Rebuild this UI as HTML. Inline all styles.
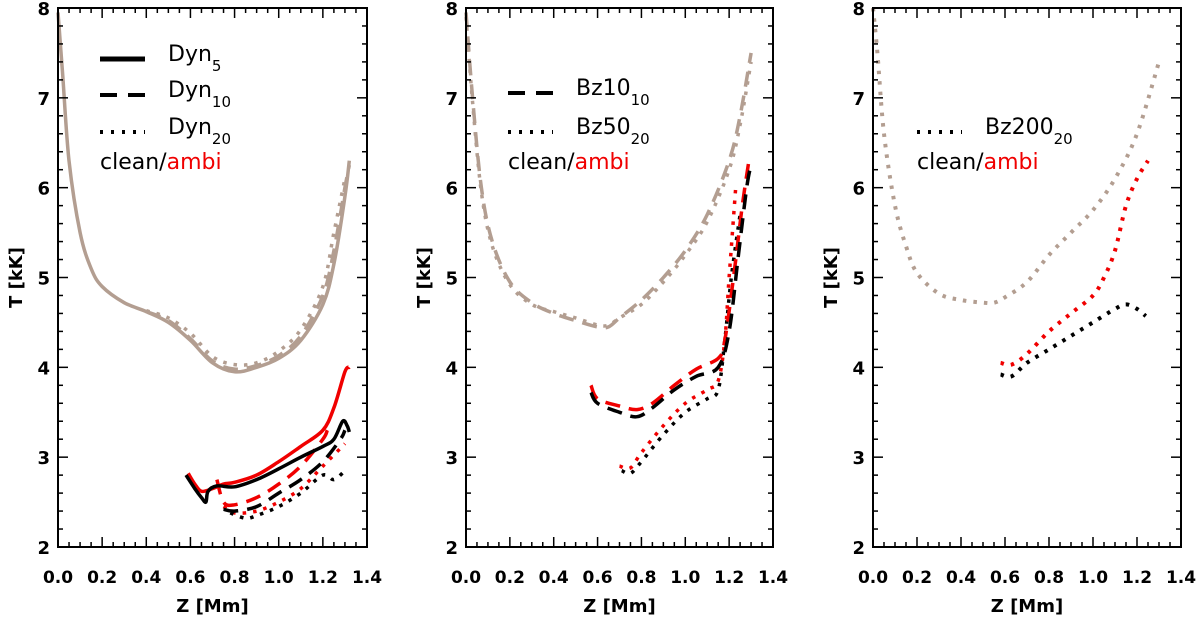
<!DOCTYPE html>
<html><head><meta charset="utf-8"><style>
body{margin:0;background:#fff;}
svg{display:block;font-family:"DejaVu Sans","Liberation Sans",sans-serif;}
</style></head><body>
<svg id="chart" width="1200" height="623" viewBox="0 0 1200 623"></svg>
<script>
const xTicks=[0.0,0.2,0.4,0.6,0.8,1.0,1.2,1.4];
const yTicks=[2,3,4,5,6,7,8];
const GRAY="#b39e91",RED="#f00000",BLK="#000";
// panel 1
const p1GraySolid=[[0,7.95],[0.02,7.3],[0.05,6.3],[0.1,5.5],[0.15,5.1],[0.2,4.9],[0.3,4.72],[0.4,4.62],[0.5,4.5],[0.6,4.3],[0.7,4.05],[0.8,3.95],[0.9,4.0],[1.0,4.1],[1.1,4.3],[1.2,4.7],[1.25,5.15],[1.3,5.9],[1.32,6.3]];
const p1GrayDash=[[0.4,4.62],[0.5,4.52],[0.6,4.32],[0.7,4.07],[0.8,3.98],[0.9,4.02],[1.0,4.13],[1.1,4.35],[1.2,4.8],[1.25,5.3],[1.3,6.0],[1.32,6.25]];
const p1GrayDot=[[0.4,4.63],[0.5,4.55],[0.6,4.38],[0.7,4.12],[0.8,4.03],[0.9,4.05],[1.0,4.18],[1.1,4.42],[1.2,4.9],[1.25,5.5],[1.3,6.1]];
const p1RedSolid=[[0.59,2.82],[0.62,2.7],[0.65,2.62],[0.7,2.65],[0.75,2.7],[0.8,2.72],[0.9,2.8],[1.0,2.95],[1.1,3.12],[1.2,3.3],[1.25,3.55],[1.3,3.95],[1.32,4.0]];
const p1BlkSolid=[[0.58,2.8],[0.62,2.65],[0.65,2.55],[0.67,2.5],[0.68,2.62],[0.72,2.68],[0.8,2.67],[0.9,2.75],[1.0,2.87],[1.1,3.0],[1.2,3.12],[1.25,3.2],[1.29,3.4],[1.31,3.35],[1.32,3.28]];
const p1RedDash=[[0.72,2.75],[0.75,2.5],[0.8,2.47],[0.9,2.55],[1.0,2.7],[1.1,2.9],[1.2,3.2],[1.22,3.3]];
const p1BlkDash=[[0.75,2.42],[0.8,2.4],[0.9,2.45],[1.0,2.6],[1.1,2.75],[1.2,2.95],[1.28,3.2],[1.3,3.3]];
const p1RedDot=[[0.75,2.45],[0.8,2.38],[0.9,2.4],[1.0,2.5],[1.1,2.65],[1.2,2.9],[1.3,3.15]];
const p1BlkDot=[[0.78,2.38],[0.85,2.32],[0.9,2.35],[1.0,2.45],[1.1,2.6],[1.2,2.8],[1.25,2.75],[1.3,2.85]];
// panel 2
const p2GrayDash=[[0,7.95],[0.03,7.0],[0.07,6.0],[0.12,5.4],[0.2,4.95],[0.3,4.72],[0.4,4.6],[0.5,4.52],[0.6,4.45],[0.65,4.45],[0.7,4.55],[0.8,4.75],[0.9,5.0],[1.0,5.3],[1.1,5.7],[1.2,6.3],[1.25,6.8],[1.3,7.5]];
const p2GrayDot=[[0,7.9],[0.03,6.95],[0.07,5.95],[0.12,5.35],[0.2,4.92],[0.3,4.7],[0.4,4.62],[0.5,4.55],[0.6,4.47],[0.65,4.47],[0.7,4.55],[0.8,4.7],[0.9,4.95],[1.0,5.25],[1.1,5.62],[1.2,6.2],[1.25,6.7],[1.3,7.4]];
const p2RedDash=[[0.57,3.8],[0.6,3.65],[0.7,3.57],[0.78,3.53],[0.85,3.6],[0.95,3.8],[1.05,3.98],[1.15,4.1],[1.18,4.3],[1.22,5.0],[1.26,5.8],[1.29,6.3]];
const p2BlkDash=[[0.57,3.72],[0.6,3.6],[0.7,3.5],[0.78,3.45],[0.85,3.55],[0.95,3.75],[1.05,3.9],[1.15,4.0],[1.2,4.4],[1.24,5.2],[1.28,6.0],[1.3,6.25]];
const p2RedDot=[[0.7,2.9],[0.75,2.88],[0.8,3.05],[0.9,3.35],[1.0,3.6],[1.1,3.75],[1.15,3.85],[1.18,4.3],[1.2,5.0],[1.23,6.0]];
const p2BlkDot=[[0.71,2.85],[0.75,2.82],[0.8,2.95],[0.9,3.25],[1.0,3.5],[1.1,3.65],[1.15,3.75],[1.18,4.3],[1.21,5.0],[1.25,5.7]];
// panel 3
const p3GrayDot=[[0,8.0],[0.02,7.5],[0.05,6.6],[0.1,5.8],[0.15,5.35],[0.2,5.05],[0.3,4.82],[0.4,4.75],[0.5,4.72],[0.55,4.72],[0.6,4.78],[0.7,4.95],[0.8,5.25],[0.9,5.5],[1.0,5.75],[1.1,6.1],[1.2,6.6],[1.3,7.4]];
const p3RedDot=[[0.58,4.05],[0.63,4.03],[0.7,4.15],[0.8,4.4],[0.9,4.6],[1.0,4.8],[1.05,5.0],[1.1,5.3],[1.15,5.8],[1.2,6.1],[1.25,6.3]];
const p3BlkDot=[[0.58,3.92],[0.63,3.9],[0.7,4.05],[0.8,4.2],[0.9,4.35],[1.0,4.5],[1.1,4.65],[1.15,4.7],[1.2,4.65],[1.24,4.57]];

const svg=document.getElementById('chart');
const NS="http://www.w3.org/2000/svg";
function mk(tag,attrs,parent,text){const e=document.createElementNS(NS,tag);for(const k in attrs)e.setAttribute(k,attrs[k]);if(text!==undefined)e.textContent=text;(parent||svg).appendChild(e);return e;}
const TOP=8,BOT=547;
const DASH={solid:null,dash:"15,9",dot:"3.5,7"};
function smoothPath(pts){
  let d='M'+pts[0][0].toFixed(1)+','+pts[0][1].toFixed(1);
  for(let i=0;i<pts.length-1;i++){
    const p0=pts[Math.max(0,i-1)],p1=pts[i],p2=pts[i+1],p3=pts[Math.min(pts.length-1,i+2)];
    const c1=[p1[0]+(p2[0]-p0[0])/6,p1[1]+(p2[1]-p0[1])/6],c2=[p2[0]-(p3[0]-p1[0])/6,p2[1]-(p3[1]-p1[1])/6];
    d+=` C${c1[0].toFixed(1)},${c1[1].toFixed(1)} ${c2[0].toFixed(1)},${c2[1].toFixed(1)} ${p2[0].toFixed(1)},${p2[1].toFixed(1)}`;
  }
  return d;
}
function panel(idx,L,R,series,legend){
  const g=mk('g',{});
  
  
  const xs=v=>L+v/1.4*(R-L), ys=v=>BOT-(v-2)/6*(BOT-TOP);
  series.forEach(s=>{
    const p=mk('path',{d:smoothPath(s.d.map(q=>[xs(q[0]),ys(q[1])])),fill:'none',stroke:s.c,'stroke-width':s.w||3.5,'stroke-linejoin':'round'},g);
    if(DASH[s.t])p.setAttribute('stroke-dasharray',DASH[s.t]);
    
    
  });
  const fr=mk('rect',{x:L,y:TOP,width:R-L,height:BOT-TOP,fill:'none',stroke:'#000','stroke-width':2},g);
  
  
  for(let v=0;v<=1.4001;v+=0.05){const x=xs(v);const maj=Math.abs(v/0.2-Math.round(v/0.2))<1e-6;const l=maj?10:5;
    mk('line',{x1:x,x2:x,y1:BOT,y2:BOT-l,stroke:'#000','stroke-width':1.5},g);mk('line',{x1:x,x2:x,y1:TOP,y2:TOP+l,stroke:'#000','stroke-width':1.5},g);}
  for(let v=2;v<=8.0001;v+=0.2){const y=ys(v);const maj=Math.abs(v-Math.round(v))<1e-6;const l=maj?10:5;
    mk('line',{x1:L,x2:L+l,y1:y,y2:y,stroke:'#000','stroke-width':1.5},g);mk('line',{x1:R,x2:R-l,y1:y,y2:y,stroke:'#000','stroke-width':1.5},g);}
  xTicks.forEach(v=>{const t=mk('text',{x:xs(v),y:BOT+36,'text-anchor':'middle','font-size':17,'font-weight':'bold'},g,v.toFixed(1));
    });
  yTicks.forEach(v=>{const t=mk('text',{x:L-8,y:ys(v)+7,'text-anchor':'end','font-size':18,'font-weight':'bold'},g,String(v));
    });
  const xt=mk('text',{x:(L+R)/2,y:612,'text-anchor':'middle','font-size':18,'font-weight':'bold'},g,'Z [Mm]');
  
  const yt=mk('text',{transform:`translate(${L-36},${(TOP+BOT)/2}) rotate(-90)`,'text-anchor':'middle','font-size':18,'font-weight':'bold'},g,'T [kK]');
  
  legend.items.forEach(it=>{
    const lg=mk('g',{},g);
    
    
    const ln=mk('line',{x1:legend.x,x2:legend.x+45,y1:it.y,y2:it.y,stroke:'#000','stroke-width':it.t==='solid'?5:4},lg);
    if(DASH[it.t])ln.setAttribute('stroke-dasharray',it.t==='dash'?'17,11':'3,8');
    const tx=mk('text',{x:legend.x+68,y:it.y+2,'font-size':22},lg);
    mk('tspan',{},tx,it.base);mk('tspan',{dy:10,'font-size':15},tx,it.sub);
  });
  const ct=mk('text',{x:legend.x,y:legend.cy,'font-size':22},g);
  
  mk('tspan',{},ct,'clean/');mk('tspan',{fill:RED},ct,'ambi');
}
panel(1,58,367,[
 {d:p1GrayDot,c:GRAY,t:'dot',n:'gray-dyn20'},{d:p1GrayDash,c:GRAY,t:'dash',n:'gray-dyn10'},{d:p1GraySolid,c:GRAY,t:'solid',n:'gray-dyn5'},
 {d:p1RedDot,c:RED,t:'dot',n:'ambi-dyn20'},{d:p1BlkDot,c:BLK,t:'dot',n:'clean-dyn20'},
 {d:p1RedDash,c:RED,t:'dash',n:'ambi-dyn10'},{d:p1BlkDash,c:BLK,t:'dash',n:'clean-dyn10'},
 {d:p1RedSolid,c:RED,t:'solid',n:'ambi-dyn5'},{d:p1BlkSolid,c:BLK,t:'solid',n:'clean-dyn5'}],
 {x:100,cy:169,items:[{y:59,t:'solid',base:'Dyn',sub:'5'},{y:95,t:'dash',base:'Dyn',sub:'10'},{y:132,t:'dot',base:'Dyn',sub:'20'}]});
panel(2,466,773,[
 {d:p2GrayDot,c:GRAY,t:'dot',n:'gray-bz50'},{d:p2GrayDash,c:GRAY,t:'dash',n:'gray-bz10'},
 {d:p2RedDot,c:RED,t:'dot',n:'ambi-bz50'},{d:p2BlkDot,c:BLK,t:'dot',n:'clean-bz50'},
 {d:p2RedDash,c:RED,t:'dash',n:'ambi-bz10'},{d:p2BlkDash,c:BLK,t:'dash',n:'clean-bz10'}],
 {x:508,cy:169,items:[{y:93,t:'dash',base:'Bz10',sub:'10'},{y:132,t:'dot',base:'Bz50',sub:'20'}]});
panel(3,873,1181,[
 {d:p3GrayDot,c:GRAY,t:'dot',n:'gray-bz200',w:4},{d:p3RedDot,c:RED,t:'dot',n:'ambi-bz200',w:4},{d:p3BlkDot,c:BLK,t:'dot',n:'clean-bz200',w:4}],
 {x:917,cy:169,items:[{y:132,t:'dot',base:'Bz200',sub:'20'}]});
</script>
</body></html>
